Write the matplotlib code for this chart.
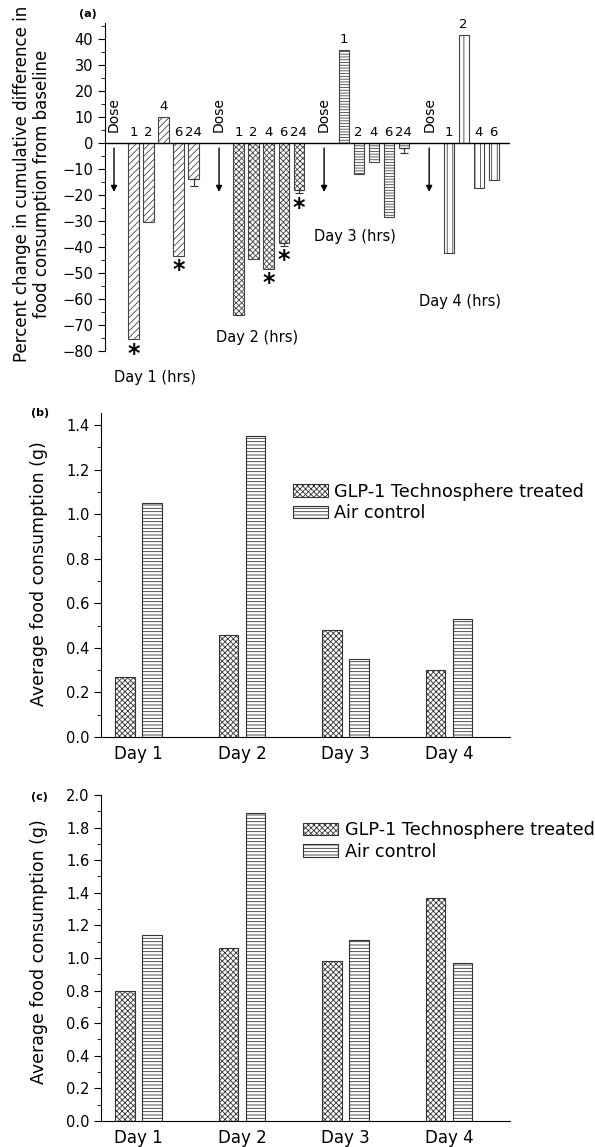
import numpy as np
import matplotlib
matplotlib.use('Agg')
import matplotlib.pyplot as plt
from matplotlib.ticker import MultipleLocator

plt.rcParams['font.family'] = ['DejaVu Sans']
plt.rcParams['hatch.linewidth'] = 0.6

# ---- panel (a): percent change from baseline, per hour after each dose
day_names = ['Day 1 (hrs)', 'Day 2 (hrs)', 'Day 3 (hrs)', 'Day 4 (hrs)']
day_hours = [['1', '2', '4', '6', '24'],
             ['1', '2', '4', '6', '24'],
             ['1', '2', '4', '6', '24'],
             ['1', '2', '4', '6']]
day_pct = [[-75.5, -30.5, 10, -43.5, -14],
           [-66, -44.5, -48.5, -38.5, -18],
           [35.5, -12, -7.5, -28.5, -2],
           [-42.5, 41.5, -17.5, -14.5]]
day_err = [[0, 0, 0, 0, 2.5],
           [0, 0, 0, 1, 1.5],
           [0, 0, 0, 0, 2],
           [0, 0, 0, 0]]
day_sig = [[1, 0, 0, 1, 0],
           [0, 0, 1, 1, 1],
           [0, 0, 0, 0, 0],
           [0, 0, 0, 0]]
day_hatch = ['/////', 'xxxxxx', '------', '|||']

# ---- panels (b) and (c): average food consumption
days = ['Day 1', 'Day 2', 'Day 3', 'Day 4']
b_glp = [0.27, 0.46, 0.48, 0.30]
b_air = [1.05, 1.35, 0.35, 0.53]
c_glp = [0.80, 1.06, 0.98, 1.37]
c_air = [1.14, 1.89, 1.11, 0.97]
legend_labels = ['GLP-1 Technosphere treated', 'Air control']

fig = plt.figure(figsize=(5.95, 11.47), dpi=100)

# ------------------------------------------------------------ (a)
ax = fig.add_axes([0.1765, 0.694, 0.681, 0.286])
# where each day's label sits (offset from dose x, y)
name_pos = [(2.73, -90), (2.53, -75), (2.07, -36), (2.07, -61)]
for g in range(4):
    dose_x = 0.6 + 7 * g
    xs = dose_x + 1.3 + np.arange(len(day_pct[g]))
    vals = np.array(day_pct[g])
    errs = np.array(day_err[g])
    ax.bar(xs, vals, width=0.68, color='white', edgecolor='#444444',
           hatch=day_hatch[g], linewidth=0.8, zorder=2)
    for x, v, e, h, s in zip(xs, vals, errs, day_hours[g], day_sig[g]):
        if e > 0:
            ax.errorbar(x, v, yerr=[[e], [0]], fmt='none', ecolor='#333333',
                        elinewidth=0.8, capsize=3, capthick=0.8, zorder=3)
        ytxt = v + 1.5 if v > 0 else 1.5
        ax.text(x, ytxt, h, ha='center', va='bottom', fontsize=9.5)
        if s:
            ax.text(x, v - e - 5.5, '*', ha='center', va='center',
                    fontsize=17, fontweight='bold')
    ax.text(dose_x, 4, 'Dose', rotation=90, ha='center', va='bottom',
            fontsize=10)
    ax.annotate('', xy=(dose_x, -20), xytext=(dose_x, -1),
                arrowprops=dict(arrowstyle='-|>', color='black', lw=1,
                                mutation_scale=9))
    nx, ny = name_pos[g]
    ax.text(dose_x + nx, ny, day_names[g], ha='center', va='center',
            fontsize=10.5, clip_on=False)

ax.axhline(0, color='black', lw=1, zorder=4)
ax.set_xlim(0, 27)
ax.set_ylim(-80, 46)
ax.yaxis.set_minor_locator(MultipleLocator(5))
ax.set_yticks(np.arange(-80, 41, 10))
for sp in ['top', 'right', 'bottom']:
    ax.spines[sp].set_visible(False)
ax.set_xticks([])
ax.tick_params(axis='y', which='major', length=5, labelsize=10.5)
ax.tick_params(axis='y', which='minor', length=3)
ax.set_ylabel('Percent change in cumulative difference in\n'
              'food consumption from baseline', fontsize=12, linespacing=1.15)
ax.yaxis.set_label_coords(-0.133, 0.51)
fig.text(0.148, 0.988, '(a)', fontsize=8, fontweight='bold',
         ha='center', va='center')


# ------------------------------------------------------------ (b), (c)
def food_panel(rect, glp, air, top, leg_anchor, ylabel_y):
    ax = fig.add_axes(rect)
    x = np.arange(1, len(days) + 1)
    ax.bar(x - 0.13, glp, width=0.19, color='white', edgecolor='#333333',
           hatch='xxxxxx', linewidth=0.8, label=legend_labels[0])
    ax.bar(x + 0.13, air, width=0.19, color='white', edgecolor='#333333',
           hatch='-----', linewidth=0.8, label=legend_labels[1])
    ax.set_xlim(0.638, 4.59)
    ax.set_ylim(0, top)
    ax.set_xticks(x)
    ax.set_xticklabels(days, fontsize=12)
    ax.yaxis.set_major_locator(MultipleLocator(0.2))
    ax.yaxis.set_minor_locator(MultipleLocator(0.1))
    ax.yaxis.set_major_formatter(matplotlib.ticker.FormatStrFormatter('%.1f'))
    ax.tick_params(axis='x', length=0, pad=6)
    ax.tick_params(axis='y', which='major', length=5, labelsize=10.5)
    ax.tick_params(axis='y', which='minor', length=3)
    for sp in ['top', 'right']:
        ax.spines[sp].set_visible(False)
    ax.set_ylabel('Average food consumption (g)', fontsize=12.5)
    ax.yaxis.set_label_coords(-0.13, ylabel_y)
    ax.legend(loc='upper left', bbox_to_anchor=leg_anchor, frameon=False,
              fontsize=12.7, borderpad=0, borderaxespad=0, handlelength=2.0,
              handleheight=0.7, handletextpad=0.35, labelspacing=0.2)
    return ax


food_panel([0.170, 0.3574, 0.687, 0.2825], b_glp, b_air, 1.454,
           (0.469, 0.785), 0.503)
fig.text(0.067, 0.640, '(b)', fontsize=8, fontweight='bold',
         ha='center', va='center')

food_panel([0.170, 0.0227, 0.687, 0.2842], c_glp, c_air, 2.0,
           (0.494, 0.92), 0.52)
fig.text(0.067, 0.305, '(c)', fontsize=8, fontweight='bold',
         ha='center', va='center')

fig.savefig('out.png', dpi=100)
